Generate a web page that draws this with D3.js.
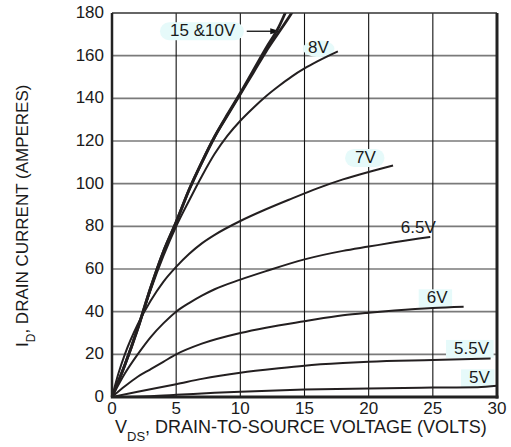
<!DOCTYPE html>
<meta charset="utf-8">
<head>
  <script src="https://cdn.jsdelivr.net/npm/d3@7"></script>
  <style>
    body { margin: 0; background: #fff; }
    svg { display: block; }
    text { font-family: "Liberation Sans", Arial, sans-serif; fill: #1a1a1a; }
  </style>
</head>
<body>
<div id="chart"></div>
<script>

// tick values
var xTicks = [0, 5, 10, 15, 20, 25, 30];
var yTicks = [0, 20, 40, 60, 80, 100, 120, 140, 160, 180];

// curves: [VDS volts, ID amps]
var id_15V = [[0,0],[1,15],[2,32],[3,51],[4,68],[5,82],[6,97],[7,110],[8,122],[9,132],[10,142],[11,152],[12,162],[13,171],[14,180],[14.3,183]];
var id_10V = [[0,0],[1,15],[2,32],[3,51],[4,68],[5,82],[6,97],[7,110],[8,122],[9,132.5],[10,142.5],[11,153],[12,163.5],[13,173.5],[13.5,180],[13.8,184]];
var id_8V  = [[0,0],[1,15],[2,32],[3,50],[4,66],[5,80],[6,92],[7,103.5],[8,114],[9,122.5],[10,129.5],[11,135.5],[12,141],[13,145.8],[14,150.2],[15,154],[16,157.3],[17.6,162]];
var id_7V  = [[0,0],[0.5,11],[1,20],[2,34],[3,45],[4,54],[5,61],[6,67],[7,72],[8,76],[10,82.5],[12,88],[14,93],[16,97.8],[18,102],[20,105.5],[21.9,108.5]];
var id_65V = [[0,0],[1,11],[2,20],[3,28],[4,34.5],[5,40],[6,44],[7,47.5],[8,50.5],[10,55],[12,59],[15,64.5],[18,68.5],[20,70.5],[22,72.5],[24.8,75]];
var id_6V  = [[0,0],[1,5],[2,9.5],[3,13],[4,16.5],[5,20],[7,25],[10,30],[12,32.5],[15,35.5],[18,38.3],[20,39.5],[22,40.5],[25,41.7],[27.4,42.3]];
var id_55V = [[0,0],[2,2.5],[5,6],[7,8.5],[10,11.4],[13,13.5],[15,14.7],[18,15.9],[20,16.5],[25,17.3],[29.5,18]];
var id_5V  = [[0,0],[3,0.4],[5,1],[8,2],[10,2.5],[15,3.5],[20,4],[25,4.4],[28.5,4.6],[30,5.3]];

var curves = [
  { name: "15V", pts: id_15V, w: 2.8 },
  { name: "10V", pts: id_10V, w: 2.8 },
  { name: "8V",  pts: id_8V,  w: 2 },
  { name: "7V",  pts: id_7V,  w: 2 },
  { name: "6.5V", pts: id_65V, w: 2 },
  { name: "6V",  pts: id_6V,  w: 2 },
  { name: "5.5V", pts: id_55V, w: 2 },
  { name: "5V",  pts: id_5V,  w: 2 }
];

// curve labels, anchored in data units (text start, baseline)
var labelText = ["15 &10V", "8V", "7V", "6.5V", "6V", "5.5V", "5V"];
var labelAt   = [[4.52,169.1],[15.27,161.1],[18.94,109.7],[22.5,76.7],[24.52,43.9],[26.65,20.2],[27.82,6.4]];
var labelBg   = ["round", "ellipse", "round", "none", "rect", "rect", "rect"];

var width = 511, height = 447;
var margin = { top: 13, right: 14, bottom: 50, left: 112 };

var svg = d3.select("#chart")
  .append("svg")
  .attr("width", width)
  .attr("height", height);

var x = d3.scaleLinear()
  .domain([0, 30])
  .range([margin.left, width - margin.right]);

var y = d3.scaleLinear()
  .domain([0, 180])
  .range([height - margin.bottom, margin.top]);

// grid
svg.append("g")
  .selectAll("line")
  .data(yTicks.slice(1, -1))
  .enter()
  .append("line")
  .attr("x1", x(0)).attr("x2", x(30))
  .attr("y1", function (d) { return y(d); })
  .attr("y2", function (d) { return y(d); })
  .attr("stroke", "#7a7a7a")
  .attr("stroke-width", 1.6);

svg.append("g")
  .selectAll("line")
  .data(xTicks.slice(1, -1))
  .enter()
  .append("line")
  .attr("y1", y(0)).attr("y2", y(180))
  .attr("x1", function (d) { return x(d); })
  .attr("x2", function (d) { return x(d); })
  .attr("stroke", "#111")
  .attr("stroke-width", 1.1);

// labels backgrounds + text (drawn under the curves)
var labG = svg.append("g");
labelText.forEach(function (t, i) {
  var g = labG.append("g");
  var txt = g.append("text")
    .attr("x", x(labelAt[i][0]))
    .attr("y", y(labelAt[i][1]))
    .style("font-size", "17px")
    .text(t);
  var b = txt.node().getBBox();
  var kind = labelBg[i];
  if (kind === "none") return;
  var bg;
  if (kind === "ellipse") {
    bg = g.insert("ellipse", "text")
      .attr("cx", b.x + b.width / 2)
      .attr("cy", b.y + b.height / 2 + 1)
      .attr("rx", b.width / 2 + 5)
      .attr("ry", b.height / 2 - 1);
  } else {
    bg = g.insert("rect", "text")
      .attr("x", b.x - (kind === "round" ? 10 : 8))
      .attr("y", b.y + 1)
      .attr("width", b.width + (kind === "round" ? 18 : 12))
      .attr("height", b.height - 1)
      .attr("rx", kind === "round" ? 9 : 0);
  }
  bg.attr("fill", "#e6fafa");
});

// arrow for the 15 & 10V label
var arrowY = y(labelAt[0][1]) - 5;
svg.append("line")
  .attr("x1", x(10.5)).attr("x2", x(12.8))
  .attr("y1", arrowY).attr("y2", arrowY)
  .attr("stroke", "#111").attr("stroke-width", 1.3);
svg.append("path")
  .attr("d", "M" + (x(12.8) + 4) + "," + arrowY + "l-10,-3l0,6z")
  .attr("fill", "#111");

// curves
svg.append("clipPath").attr("id", "clip")
  .append("rect")
  .attr("x", x(0)).attr("y", y(180))
  .attr("width", x(30) - x(0)).attr("height", y(0) - y(180));

var line = d3.line()
  .x(function (d) { return x(d[0]); })
  .y(function (d) { return y(d[1]); })
  .curve(d3.curveMonotoneX);

svg.append("g")
  .attr("clip-path", "url(#clip)")
  .selectAll("path")
  .data(curves)
  .enter()
  .append("path")
  .attr("d", function (d) { return line(d.pts); })
  .attr("fill", "none")
  .attr("stroke", "#231f20")
  .attr("stroke-width", function (d) { return d.w; })
  .attr("stroke-linecap", "butt");

// frame
svg.append("line").attr("x1", x(0)).attr("x2", x(30)).attr("y1", y(180)).attr("y2", y(180))
  .attr("stroke", "#333").attr("stroke-width", 1.5);
svg.append("line").attr("x1", x(0)).attr("x2", x(0)).attr("y1", y(180)).attr("y2", y(0))
  .attr("stroke", "#222").attr("stroke-width", 2.5);
svg.append("line").attr("x1", x(30)).attr("x2", x(30)).attr("y1", y(180)).attr("y2", y(0) + 1.5)
  .attr("stroke", "#222").attr("stroke-width", 3);
svg.append("line").attr("x1", x(0) - 1.2).attr("x2", x(30) + 1.5).attr("y1", y(0)).attr("y2", y(0))
  .attr("stroke", "#222").attr("stroke-width", 3);

// tick labels
svg.append("g")
  .selectAll("text")
  .data(xTicks)
  .enter()
  .append("text")
  .attr("x", function (d) { return x(d); })
  .attr("y", y(0) + 17)
  .attr("text-anchor", "middle")
  .style("font-size", "17px")
  .text(function (d) { return d; });

svg.append("g")
  .selectAll("text")
  .data(yTicks)
  .enter()
  .append("text")
  .attr("x", x(0) - 8)
  .attr("y", function (d) { return y(d) + 5; })
  .attr("text-anchor", "end")
  .style("font-size", "17px")
  .text(function (d) { return d; });

// axis titles
var xt = svg.append("text")
  .attr("x", x(0) + 3)
  .attr("y", 433)
  .style("font-size", "18px");
xt.append("tspan").text("V");
xt.append("tspan").attr("dy", 8).style("font-size", "13px").text("DS");
xt.append("tspan").attr("dy", -8).text(", DRAIN-TO-SOURCE VOLTAGE (VOLTS)");

var yt = svg.append("text")
  .attr("transform", "translate(28," + 347 + ") rotate(-90)")
  .attr("text-anchor", "start")
  .style("font-size", "17px");
yt.append("tspan").text("I");
yt.append("tspan").attr("dy", 7).style("font-size", "12px").text("D");
yt.append("tspan").attr("dy", -7).text(", DRAIN CURRENT (AMPERES)");

</script>
</body>
